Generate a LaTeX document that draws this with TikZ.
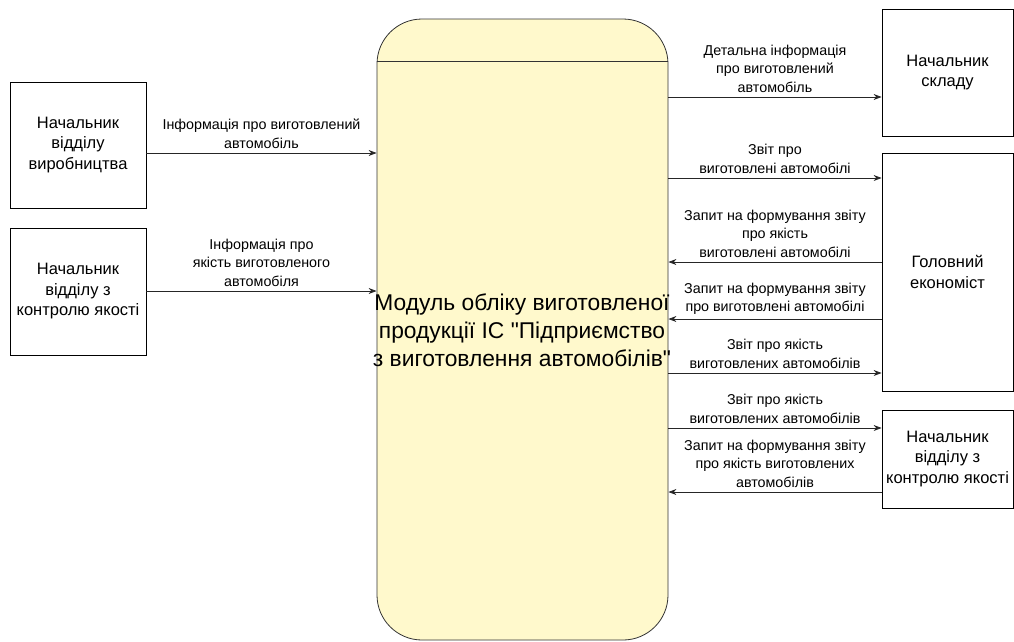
\documentclass[tikz,border=0pt]{standalone}
\usepackage{fontspec}
\setmainfont{Liberation Sans}
\usetikzlibrary{arrows.meta,calc}
\definecolor{modfill}{HTML}{FFF9CC}
% plain font instance without TeX text mapping, so the ASCII quote stays straight
\font\straightq="Liberation Sans" at 22.8pt
\newcommand{\dq}{{\straightq\char34}}
\begin{document}
\begin{tikzpicture}[x=1pt,y=-1pt,
  actor/.style={draw=black, line width=0.8pt, align=center, inner sep=0pt,
    font=\fontsize{16.5}{20.5}\selectfont},
  module/.style={draw=black!80, line width=0.8pt, fill=modfill, rounded corners=45pt,
    inner sep=0pt},
  flow/.style={draw=black!85, line width=0.8pt, -{Stealth[length=8pt,width=6pt]}},
  lbl/.style={align=center, font=\fontsize{14.3}{18.5}\selectfont, inner sep=0pt,
    midway, above=4pt}]
\useasboundingbox (0,0) rectangle (1014,641);

% central process
\node[module, minimum width=291pt, minimum height=621pt] (mod) at (522.5,329.5) {};
\draw[black!80, line width=0.8pt] ($(mod.north west)+(0,43)$) -- ($(mod.north east)+(0,43)$);
\node[align=center, font=\fontsize{22.8}{28}\selectfont, inner sep=0pt] (modtxt) at (522,330)
  {Модуль обліку виготовленої\\продукції ІС \dq Підприємство\\з виготовлення автомобілів\dq};

% external entities
\node[actor, minimum width=136pt, minimum height=126pt] (prod) at (78,145)
  {Начальник\\відділу\\виробництва};
\node[actor, minimum width=136pt, minimum height=127pt] (qcl) at (78,291.5)
  {Начальник\\відділу з\\контролю якості};
\node[actor, minimum width=131pt, minimum height=127pt] (store) at (947.5,72.5)
  {Начальник\\складу};
\node[actor, minimum width=131pt, minimum height=238pt] (econ) at (947.5,272)
  {Головний\\економіст};
\node[actor, minimum width=131pt, minimum height=98pt] (qcr) at (947.5,459)
  {Начальник\\відділу з\\контролю якості};

% data flows, left side
\draw[flow] (prod.east |- 0,153) -- (mod.west |- 0,153)
  node[lbl] {Інформація про виготовлений\\автомобіль};
\draw[flow] (qcl.east |- 0,291) -- (mod.west |- 0,291)
  node[lbl] {Інформація про\\якість виготовленого\\автомобіля};

% data flows, right side
\draw[flow] (mod.east |- 0,97) -- (store.west |- 0,97)
  node[lbl] {Детальна інформація\\про виготовлений\\автомобіль};
\draw[flow] (mod.east |- 0,178) -- (econ.west |- 0,178)
  node[lbl] {Звіт про\\виготовлені автомобілі};
\draw[flow] (econ.west |- 0,262) -- (mod.east |- 0,262)
  node[lbl] {Запит на формування звіту\\про якість\\виготовлені автомобілі};
\draw[flow] (econ.west |- 0,319) -- (mod.east |- 0,319)
  node[lbl] {Запит на формування звіту\\про виготовлені автомобілі};
\draw[flow] (mod.east |- 0,373) -- (econ.west |- 0,373)
  node[lbl] {Звіт про якість\\виготовлених автомобілів};
\draw[flow] (mod.east |- 0,428) -- (qcr.west |- 0,428)
  node[lbl] {Звіт про якість\\виготовлених автомобілів};
\draw[flow] (qcr.west |- 0,492) -- (mod.east |- 0,492)
  node[lbl] {Запит на формування звіту\\про якість виготовлених\\автомобілів};
\end{tikzpicture}
\end{document}
